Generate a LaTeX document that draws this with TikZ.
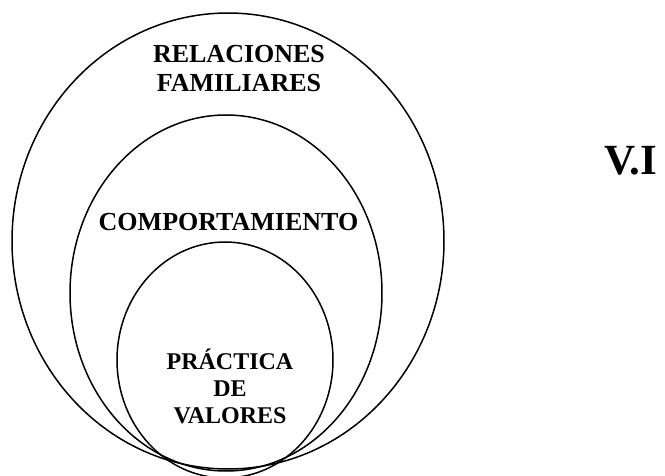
\documentclass[tikz,border=0pt]{standalone}
\usepackage{fontspec}
\setmainfont{Liberation Serif}
\begin{document}
\begin{tikzpicture}[x=1pt,y=1pt,
	ring/.style={line width=1.5pt},
	ringtext/.style={font=\bfseries\fontsize{26}{29}\selectfont, align=center, anchor=base, inner sep=0pt}]
			\useasboundingbox (0,0) rectangle (665,475);
			% nested ellipses
			\draw[ring] (228,234) ellipse [x radius=216, y radius=228];
			\draw[ring] (226,182) ellipse [x radius=156, y radius=178];
			\draw[ring] (225,115) ellipse [x radius=108, y radius=118];
			% texts (base = last line)
			\node[ringtext] (familia) at (239,383) {RELACIONES\\FAMILIARES};
			\node[ringtext] (conducta) at (228.5,244) {COMPORTAMIENTO};
			\node[ringtext, font=\bfseries\fontsize{24}{27}\selectfont] (valores) at (230,52) {PRÁCTICA\\DE\\VALORES};
			\node[ringtext, font=\bfseries\fontsize{43}{46}\selectfont] (vi) at (630.5,300) {V.I};
		\end{tikzpicture}
\end{document}
